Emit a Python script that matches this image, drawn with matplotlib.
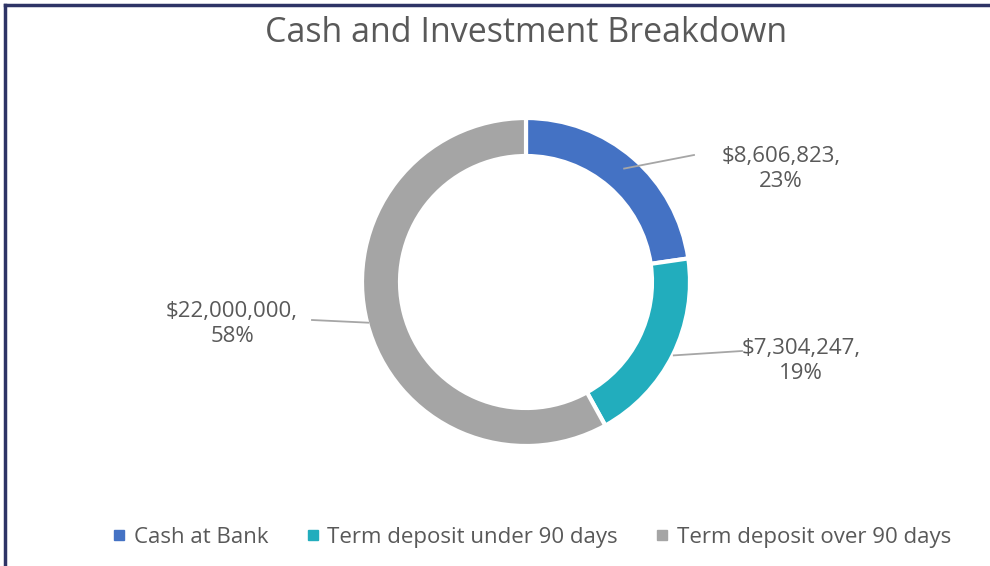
import numpy as np
import matplotlib
matplotlib.use("Agg")
import matplotlib.pyplot as plt
from matplotlib.lines import Line2D

categories = ["Cash at Bank", "Term deposit under 90 days", "Term deposit over 90 days"]
values = [8606823, 7304247, 22000000]
percents = ["23%", "19%", "58%"]
colors = ["#4472C4", "#22ADBD", "#A5A5A5"]

plt.rcParams['font.family'] = ['Open Sans', 'DejaVu Sans']

W, H = 990, 566
fig = plt.figure(figsize=(W / 100, H / 100), dpi=100)
ax = fig.add_axes([0, 0, 1, 1])

cx, cy, R = 526, 284, 164
wedges, _ = ax.pie(values, colors=colors, startangle=90, counterclock=False,
                   center=(cx, cy), radius=R, frame=True,
                   wedgeprops=dict(width=38, edgecolor="white", linewidth=3))
ax.set_xlim(0, W)
ax.set_ylim(0, H)
ax.set_aspect("equal")
ax.axis("off")

# label placement: (line end x, line end y, text x, text y) in pixels from bottom
label_pos = [
    (694, 411, 781, 397),
    (742, 215, 801, 205),
    (312, 246, 232, 242),
]
ends_r = [150, 165, 163]
for w, val, pct, (lx, ly, tx, ty), r0 in zip(wedges, values, percents, label_pos, ends_r):
    ang = np.deg2rad((w.theta1 + w.theta2) / 2)
    sx, sy = cx + r0 * np.cos(ang), cy + r0 * np.sin(ang)
    ax.plot([sx, lx], [sy, ly], color="#A6A6A6", lw=1.3)
    ax.text(tx, ty, f"${val:,.0f},\n{pct}", ha="center", va="center",
            fontsize=16, color="#595959", linespacing=1.25)

ax.text(526, 533, "Cash and Investment Breakdown", ha="center", va="center",
        fontsize=24.5, color="#595959")

handles = [Line2D([], [], marker="s", ls="", color=c, markersize=6.5) for c in colors]
fig.legend(handles, categories, loc="center", bbox_to_anchor=(0.536, 0.051),
           ncol=3, frameon=False, fontsize=16, labelcolor="#595959",
           handlelength=0.8, handletextpad=0.25, columnspacing=1.6)

# navy frame on top and left
fig.add_artist(Line2D([0.0055, 0.0055], [0, 0.991], transform=fig.transFigure, color="#2E3466", lw=2.5))
fig.add_artist(Line2D([0.0055, 1], [0.991, 0.991], transform=fig.transFigure, color="#2E3466", lw=2.5))

fig.savefig("out.png", dpi=100)
